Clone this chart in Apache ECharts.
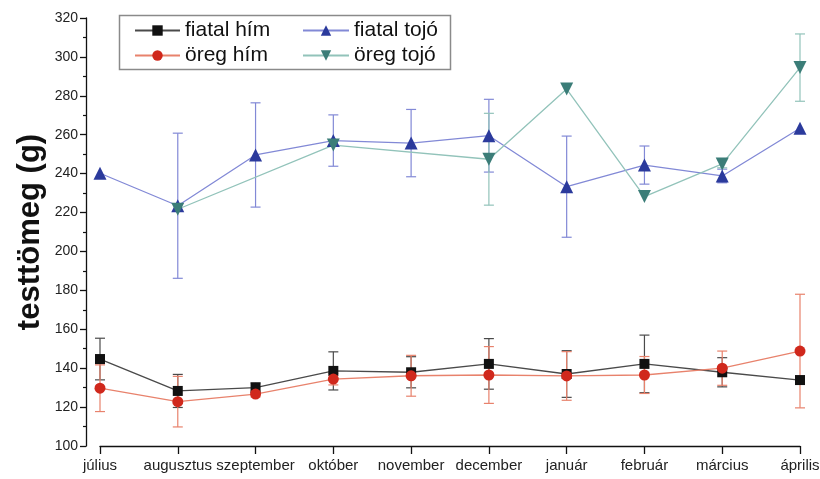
<!DOCTYPE html>
<html>
<head>
<meta charset="utf-8">
<script src="https://cdn.jsdelivr.net/npm/echarts@6/dist/echarts.min.js"></script>
<style>html,body{margin:0;padding:0;background:#fff}#c{width:820px;height:479px}</style>
</head>
<body>
<div id="c"></div>
<script>
const categories = ['július','augusztus','szeptember','október','november','december','január','február','március','április'];
const fiatalHim    = [144.7, 128.3, 130.0, 138.6, 137.9, 142.2, 137.0, 142.2, 137.9, 133.9];
const fiatalHimErr = [10.7, 8.5, 2.5, 9.8, 8.0, 13.0, 12.0, 14.8, 7.5, null];
const oregHim      = [129.7, 122.8, 126.7, 134.4, 136.1, 136.5, 136.0, 136.5, 140.0, 148.8];
const oregHimErr   = [12.0, 13.0, 1.5, 3.0, 10.5, 14.6, 12.5, 9.5, 8.8, 29.2];
const fiatalTojo   = [240.2, 223.5, 249.6, 257.0, 255.7, 259.5, 233.3, 244.4, 238.8, 263.3];
const fiatalTojoErr= [null, 37.3, 26.8, 13.2, 17.3, 18.7, 26.0, 9.8, 3.5, null];
const oregTojo     = [null, 221.7, null, 254.7, null, 247.4, 283.5, 228.2, 245.0, 294.5];
const oregTojoErr  = [null, null, null, null, null, 23.6, null, null, 2.0, 17.3];
const yTicks = {min: 100, max: 320, interval: 20};

const C = {
  fh: {mark: '#111111', line: '#4a4a4a'},
  oh: {mark: '#d0281c', line: '#e8826c'},
  ft: {mark: '#2b3a9c', line: '#8289d6'},
  ot: {mark: '#3b7d78', line: '#92c3ba'}
};

function errSeries(id, vals, errs, color) {
  const data = [];
  vals.forEach((v, i) => {
    if (v != null && errs[i] != null) data.push([i, v - errs[i], v + errs[i]]);
  });
  return {
    type: 'custom', id: id, silent: true, z: 1, data: data,
    encode: {x: 0, y: [1, 2]},
    renderItem: function (params, api) {
      const x = api.value(0);
      const lo = api.coord([x, api.value(1)]);
      const hi = api.coord([x, api.value(2)]);
      const w = 5;
      const st = {stroke: color, lineWidth: 1.2};
      return {type: 'group', children: [
        {type: 'line', shape: {x1: lo[0], y1: lo[1], x2: hi[0], y2: hi[1]}, style: st},
        {type: 'line', shape: {x1: lo[0] - w, y1: lo[1], x2: lo[0] + w, y2: lo[1]}, style: st},
        {type: 'line', shape: {x1: hi[0] - w, y1: hi[1], x2: hi[0] + w, y2: hi[1]}, style: st}
      ]};
    }
  };
}

function lineSeries(name, vals, col, symbol, size, rotate) {
  return {
    type: 'line', name: name, data: vals, z: 3,
    connectNulls: true,
    symbol: symbol, symbolSize: size, symbolRotate: rotate || 0,
    showAllSymbol: true,
    itemStyle: {color: col.mark, borderWidth: 0},
    lineStyle: {color: col.line, width: 1.3},
    emphasis: {disabled: true},
    animation: false
  };
}

const chart = echarts.init(document.getElementById('c'), null, {renderer: 'canvas'});
const legendText = {fontSize: 21, color: '#111', fontFamily: 'Liberation Sans, Arial, sans-serif', lineHeight: 20};
chart.setOption({
  animation: false,
  backgroundColor: '#fff',
  textStyle: {fontFamily: 'Liberation Sans, Arial, sans-serif'},
  grid: {left: 100, right: 20, top: 18, bottom: 33, containLabel: false, outerBoundsMode: 'none'},
  legend: [
    {data: ['fiatal hím', 'öreg hím'], orient: 'vertical', left: 134, top: 20, itemWidth: 45, itemHeight: 13,
     itemGap: 4, padding: 0, selectedMode: false, textStyle: legendText},
    {data: ['fiatal tojó', 'öreg tojó'], orient: 'vertical', left: 302, top: 20, itemWidth: 46, itemHeight: 13,
     itemGap: 4, padding: 0, selectedMode: false, textStyle: legendText}
  ],
  graphic: [{type: 'rect', left: 117, top: 13, shape: {width: 331, height: 54},
    style: {fill: 'none', stroke: '#8a8a8a', lineWidth: 1.5}, z: 10}],
  xAxis: {
    type: 'category', data: categories, boundaryGap: false,
    axisLine: {show: true, onZero: false, lineStyle: {color: '#111', width: 1.3}},
    axisTick: {show: true, inside: false, length: 8, alignWithLabel: true, lineStyle: {color: '#111', width: 1.3}},
    axisLabel: {fontSize: 15, color: '#222', margin: 12, interval: 0},
    splitLine: {show: false}
  },
  yAxis: {
    type: 'value', min: yTicks.min, max: yTicks.max, interval: yTicks.interval, offset: 14,
    name: 'testtömeg (g)', nameLocation: 'middle', nameGap: 40, nameRotate: 90, nameMoveOverlap: false,
    nameTextStyle: {fontSize: 31, fontWeight: 'bold', color: '#111'},
    axisLine: {show: true, lineStyle: {color: '#111', width: 1.3}},
    axisTick: {show: true, inside: false, length: 6, lineStyle: {color: '#111', width: 1.3}},
    minorTick: {show: true, splitNumber: 2, length: 3, lineStyle: {color: '#111', width: 1.2}},
    axisLabel: {fontSize: 14, color: '#222', margin: 8},
    splitLine: {show: false}
  },
  series: [
    errSeries('e_fh', fiatalHim, fiatalHimErr, C.fh.line),
    errSeries('e_oh', oregHim, oregHimErr, C.oh.line),
    errSeries('e_ft', fiatalTojo, fiatalTojoErr, C.ft.line),
    errSeries('e_ot', oregTojo, oregTojoErr, C.ot.line),
    lineSeries('fiatal hím', fiatalHim, C.fh, 'rect', 10),
    lineSeries('öreg hím', oregHim, C.oh, 'circle', 11),
    lineSeries('fiatal tojó', fiatalTojo, C.ft, 'triangle', 13),
    lineSeries('öreg tojó', oregTojo, C.ot, 'triangle', 13, 180)
  ]
});
</script>
</body>
</html>
